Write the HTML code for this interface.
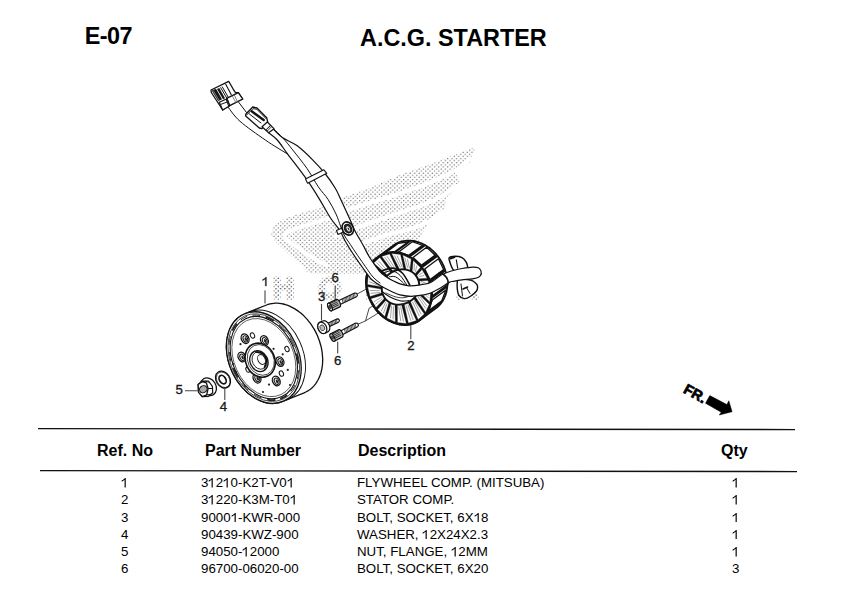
<!DOCTYPE html>
<html><head><meta charset="utf-8">
<style>
html,body{margin:0;padding:0;background:#fff;}
body{width:844px;height:599px;position:relative;overflow:hidden;font-family:"Liberation Sans",sans-serif;color:#000;}
.t{position:absolute;white-space:nowrap;line-height:1;}
.b{font-weight:bold;}
.h1{font-size:23.4px;font-weight:bold;}
.hd{font-size:16px;font-weight:bold;}
.r{font-size:13.3px;}
svg.main{position:absolute;left:0;top:0;}
.one{display:inline-block;width:0.556em;height:0.716em;vertical-align:baseline;}
.one svg{display:block;width:0.556em;height:0.716em;position:relative;top:0.6px;}
</style></head>
<body>
<div class="t h1" style="left:84.7px;top:25px;letter-spacing:-0.5px;">E-07</div>
<div class="t h1" style="left:360px;top:27px;">A.C.G. STARTER</div>

<svg class="main" width="844" height="599" viewBox="0 0 844 599">
<defs><pattern id="dots" patternUnits="userSpaceOnUse" width="4.4" height="4.2"><circle cx="1.1" cy="1.05" r="0.62" fill="#555"/><circle cx="3.3" cy="3.15" r="0.62" fill="#555"/></pattern></defs>
<polygon points="271.3,235 272.5,227.5 283.8,218.8 302.5,212.5 321.3,207.5 343.3,197.3 367,189 398.4,175.5 434,162.7 475.5,146.8 469.5,162.7 455,172 459.8,180.6 454,190 446,198 444.5,208.3 436,218 428,224 422.5,233 417,244 413,256 410,274 330,274 308,273 302.5,266.3 290,255 275,241.3" fill="url(#dots)" stroke="none" stroke-width="0" stroke-linejoin="round" />
<path d="M470 159 C468 160.7 463 165.8 458 169 C453 172.2 446.3 175.1 440 178 C433.7 180.9 428.3 183.4 420 186.5 C411.7 189.6 398.7 193.7 390 196.5 C381.3 199.3 375.5 201.1 368 203.5 C360.5 205.9 350.8 208.8 345 211 C339.2 213.2 338 214.6 333 216.5 C328 218.4 321.2 220.5 315 222.5 C308.8 224.5 301.1 226.4 296 228.5 C290.9 230.6 285.1 232.4 284.5 235 C283.9 237.6 287.8 240.1 292.5 243.8 C297.2 247.6 306.9 254 312.5 257.5 C318.1 261 323.8 263.8 326 265" fill="none" stroke="#fff" stroke-width="4.0" stroke-linecap="round" stroke-linejoin="round" />
<path d="M456 186 C454 187.5 449.2 192 444 195 C438.8 198 434 200.5 425 204 C416 207.5 399.2 212.8 390 216 C380.8 219.2 376.3 220.8 370 223 C363.7 225.2 357.7 227.3 352 229.5 C346.3 231.7 338.7 234.9 336 236" fill="none" stroke="#fff" stroke-width="4.0" stroke-linecap="round" stroke-linejoin="round" />
<path d="M442 212 C439.7 213.7 433.3 219.2 428 222 C422.7 224.8 416.3 227 410 229 C403.7 231 396.7 232.1 390 234 C383.3 235.9 376.3 238.3 370 240.5 C363.7 242.7 355 245.9 352 247" fill="none" stroke="#fff" stroke-width="4.0" stroke-linecap="round" stroke-linejoin="round" />
<text x="273" y="298" font-family="Liberation Sans" font-weight="bold" font-size="29" textLength="205" lengthAdjust="spacing" fill="url(#dots)" stroke="url(#dots)" stroke-width="3.5" stroke-linejoin="round">HONDA</text>
<path d="M282.6 401.5 L280.9 402.1 L279.1 402.6 L277.3 402.9 L275.5 403.2 L273.6 403.3 L271.7 403.3 L269.8 403.1 L267.8 402.9 L265.9 402.5 L263.9 402 L262 401.3 L260 400.6 L258.1 399.7 L256.2 398.7 L254.2 397.6 L252.4 396.4 L250.5 395.1 L248.7 393.7 L246.9 392.2 L245.2 390.6 L243.6 388.9 L241.9 387.1 L240.4 385.2 L238.9 383.3 L237.5 381.3 L236.1 379.2 L234.8 377.1 L233.6 374.9 L232.5 372.6 L231.5 370.4 L230.6 368 L229.7 365.7 L229 363.3 L228.3 361 L227.7 358.6 L227.3 356.2 L226.9 353.8 L226.7 351.4 L226.5 349.1 L226.4 346.7 L226.5 344.4 L226.6 342.1 L226.9 339.9 L227.2 337.7 L227.7 335.6 L228.2 333.5 L228.9 331.5 L229.6 329.6 L230.5 327.8 L231.4 326 L232.4 324.3 L233.5 322.7 L234.7 321.2 L235.9 319.8 L237.3 318.5 L238.7 317.3 L240.2 316.3 L241.7 315.3 L243.3 314.5 L245 313.7 L266.5 305 L268.2 304.4 L270 303.9 L271.8 303.6 L273.6 303.3 L275.5 303.2 L277.4 303.2 L279.3 303.4 L281.3 303.6 L283.2 304 L285.2 304.5 L287.1 305.2 L289.1 305.9 L291 306.8 L292.9 307.8 L294.9 308.9 L296.7 310.1 L298.6 311.4 L300.4 312.8 L302.2 314.3 L303.9 315.9 L305.5 317.6 L307.2 319.4 L308.7 321.3 L310.2 323.2 L311.6 325.2 L313 327.3 L314.3 329.4 L315.5 331.6 L316.6 333.9 L317.6 336.1 L318.5 338.5 L319.4 340.8 L320.1 343.2 L320.8 345.5 L321.4 347.9 L321.8 350.3 L322.2 352.7 L322.4 355.1 L322.6 357.4 L322.7 359.8 L322.6 362.1 L322.5 364.4 L322.2 366.6 L321.9 368.8 L321.4 370.9 L320.9 373 L320.2 375 L319.5 376.9 L318.6 378.7 L317.7 380.5 L316.7 382.2 L315.6 383.8 L314.4 385.3 L313.2 386.7 L311.8 388 L310.4 389.2 L308.9 390.2 L307.4 391.2 L305.8 392 L304.1 392.8 Z" fill="#fff" stroke="#111" stroke-width="1.3" stroke-linejoin="round"/>
<ellipse cx="268.1" cy="355.9" rx="47.8" ry="34.7" transform="rotate(65 268.1 355.9)" fill="none" stroke="#111" stroke-width="0.9" />
<ellipse cx="263.8" cy="357.6" rx="47.8" ry="34.7" transform="rotate(65 263.8 357.6)" fill="#fff" stroke="#111" stroke-width="1.3" />
<ellipse cx="263.8" cy="357.6" rx="45.8" ry="33.3" transform="rotate(65 263.8 357.6)" fill="none" stroke="#111" stroke-width="0.7" />
<ellipse cx="263.8" cy="357.6" rx="43" ry="31.2" transform="rotate(65 263.8 357.6)" fill="none" stroke="#111" stroke-width="1.1" />
<ellipse cx="263.8" cy="357.6" rx="40.8" ry="29.7" transform="rotate(65 263.8 357.6)" fill="none" stroke="#111" stroke-width="0.6" />
<polyline points="274.7,400 273.1,400.1 271.4,400.1 269.7,400 268,399.8" fill="none" stroke="#222" stroke-width="1.8" stroke-linecap="round" stroke-linejoin="round" />
<polyline points="261.3,398 259.6,397.3 257.8,396.5 256.1,395.6 254.5,394.6" fill="none" stroke="#222" stroke-width="1.0" stroke-linecap="round" stroke-linejoin="round" />
<polyline points="248.2,389.9 246.7,388.4 245.2,386.9 243.8,385.4 242.4,383.7" fill="none" stroke="#222" stroke-width="1.0" stroke-linecap="round" stroke-linejoin="round" />
<polyline points="237.5,376.8 236.4,374.9 235.4,372.9 234.4,370.9 233.5,368.9" fill="none" stroke="#222" stroke-width="1.8" stroke-linecap="round" stroke-linejoin="round" />
<polyline points="230.8,360.9 230.3,358.7 229.9,356.6 229.6,354.5 229.3,352.4" fill="none" stroke="#222" stroke-width="1.0" stroke-linecap="round" stroke-linejoin="round" />
<polyline points="229.1,344.4 229.3,342.4 229.6,340.4 229.9,338.5 230.3,336.6" fill="none" stroke="#222" stroke-width="1.0" stroke-linecap="round" stroke-linejoin="round" />
<polyline points="232.7,329.9 233.6,328.4 234.4,326.9 235.4,325.4 236.5,324.1" fill="none" stroke="#222" stroke-width="1.8" stroke-linecap="round" stroke-linejoin="round" />
<polyline points="241.1,319.7 242.4,318.8 243.8,318 245.2,317.3 246.7,316.6" fill="none" stroke="#222" stroke-width="1.0" stroke-linecap="round" stroke-linejoin="round" />
<polyline points="252.9,315.2 254.5,315.1 256.2,315.1 257.9,315.2 259.6,315.4" fill="none" stroke="#222" stroke-width="1.0" stroke-linecap="round" stroke-linejoin="round" />
<polyline points="266.3,317.2 268,317.9 269.8,318.7 271.5,319.6 273.1,320.6" fill="none" stroke="#222" stroke-width="1.8" stroke-linecap="round" stroke-linejoin="round" />
<polyline points="279.4,325.3 280.9,326.8 282.4,328.3 283.8,329.8 285.2,331.5" fill="none" stroke="#222" stroke-width="1.0" stroke-linecap="round" stroke-linejoin="round" />
<polyline points="290.1,338.4 291.2,340.3 292.2,342.3 293.2,344.3 294.1,346.3" fill="none" stroke="#222" stroke-width="1.0" stroke-linecap="round" stroke-linejoin="round" />
<polyline points="296.8,354.3 297.3,356.5 297.7,358.6 298,360.7 298.3,362.8" fill="none" stroke="#222" stroke-width="1.8" stroke-linecap="round" stroke-linejoin="round" />
<polyline points="298.5,370.8 298.3,372.8 298,374.8 297.7,376.7 297.3,378.6" fill="none" stroke="#222" stroke-width="1.0" stroke-linecap="round" stroke-linejoin="round" />
<polyline points="294.9,385.3 294,386.8 293.2,388.3 292.2,389.8 291.1,391.1" fill="none" stroke="#222" stroke-width="1.0" stroke-linecap="round" stroke-linejoin="round" />
<polyline points="286.5,395.5 285.2,396.4 283.8,397.2 282.4,397.9 280.9,398.6" fill="none" stroke="#222" stroke-width="1.8" stroke-linecap="round" stroke-linejoin="round" />
<ellipse cx="245.1" cy="338.7" rx="5" ry="3.7" transform="rotate(65 245.1 338.7)" fill="#fff" stroke="#111" stroke-width="1.3" />
<ellipse cx="245.4" cy="338.9" rx="3.3" ry="2.2" transform="rotate(65 245.4 338.9)" fill="none" stroke="#111" stroke-width="1.0" />
<ellipse cx="245.8" cy="339.2" rx="2" ry="1.1" transform="rotate(65 245.8 339.2)" fill="#222" stroke="none" stroke-width="0" />
<ellipse cx="264.4" cy="340.5" rx="5" ry="3.7" transform="rotate(65 264.4 340.5)" fill="#fff" stroke="#111" stroke-width="1.3" />
<ellipse cx="264.7" cy="340.7" rx="3.3" ry="2.2" transform="rotate(65 264.7 340.7)" fill="none" stroke="#111" stroke-width="1.0" />
<ellipse cx="265.1" cy="341" rx="2" ry="1.1" transform="rotate(65 265.1 341)" fill="#222" stroke="none" stroke-width="0" />
<ellipse cx="241.9" cy="357" rx="5" ry="3.7" transform="rotate(65 241.9 357)" fill="#fff" stroke="#111" stroke-width="1.3" />
<ellipse cx="242.2" cy="357.2" rx="3.3" ry="2.2" transform="rotate(65 242.2 357.2)" fill="none" stroke="#111" stroke-width="1.0" />
<ellipse cx="242.6" cy="357.5" rx="2" ry="1.1" transform="rotate(65 242.6 357.5)" fill="#222" stroke="none" stroke-width="0" />
<ellipse cx="280" cy="361.6" rx="5" ry="3.7" transform="rotate(65 280 361.6)" fill="#fff" stroke="#111" stroke-width="1.3" />
<ellipse cx="280.3" cy="361.8" rx="3.3" ry="2.2" transform="rotate(65 280.3 361.8)" fill="none" stroke="#111" stroke-width="1.0" />
<ellipse cx="280.7" cy="362.1" rx="2" ry="1.1" transform="rotate(65 280.7 362.1)" fill="#222" stroke="none" stroke-width="0" />
<ellipse cx="257" cy="378.2" rx="5" ry="3.7" transform="rotate(65 257 378.2)" fill="#fff" stroke="#111" stroke-width="1.3" />
<ellipse cx="257.3" cy="378.4" rx="3.3" ry="2.2" transform="rotate(65 257.3 378.4)" fill="none" stroke="#111" stroke-width="1.0" />
<ellipse cx="257.7" cy="378.7" rx="2" ry="1.1" transform="rotate(65 257.7 378.7)" fill="#222" stroke="none" stroke-width="0" />
<ellipse cx="276.3" cy="381" rx="5" ry="3.7" transform="rotate(65 276.3 381)" fill="#fff" stroke="#111" stroke-width="1.3" />
<ellipse cx="276.6" cy="381.2" rx="3.3" ry="2.2" transform="rotate(65 276.6 381.2)" fill="none" stroke="#111" stroke-width="1.0" />
<ellipse cx="277" cy="381.5" rx="2" ry="1.1" transform="rotate(65 277 381.5)" fill="#222" stroke="none" stroke-width="0" />
<ellipse cx="248" cy="369.5" rx="2.8" ry="2" transform="rotate(65 248 369.5)" fill="#fff" stroke="#111" stroke-width="1.0" />
<ellipse cx="281.4" cy="373.6" rx="2.8" ry="2" transform="rotate(65 281.4 373.6)" fill="#fff" stroke="#111" stroke-width="1.0" />
<ellipse cx="252.5" cy="335.5" rx="2.8" ry="2" transform="rotate(65 252.5 335.5)" fill="#fff" stroke="#111" stroke-width="1.0" />
<ellipse cx="287" cy="349" rx="2.8" ry="2" transform="rotate(65 287 349)" fill="#fff" stroke="#111" stroke-width="1.0" />
<circle cx="240.5" cy="344.2" r="1.1" fill="#222"/>
<circle cx="273.6" cy="348.8" r="1.1" fill="#222"/>
<circle cx="269" cy="384.6" r="1.1" fill="#222"/>
<circle cx="287.8" cy="369.9" r="1.1" fill="#222"/>
<circle cx="282.7" cy="354.3" r="1.1" fill="#222"/>
<circle cx="233" cy="364" r="1.1" fill="#222"/>
<circle cx="290" cy="385" r="1.1" fill="#222"/>
<circle cx="263" cy="392" r="1.1" fill="#222"/>
<circle cx="245" cy="386" r="1.1" fill="#222"/>
<circle cx="236" cy="372" r="1.1" fill="#222"/>
<ellipse cx="260.2" cy="360.2" rx="17.5" ry="14.5" transform="rotate(65 260.2 360.2)" fill="#fff" stroke="#111" stroke-width="1.6" />
<ellipse cx="260.8" cy="359.9" rx="15.8" ry="13" transform="rotate(65 260.8 359.9)" fill="none" stroke="#111" stroke-width="0.7" />
<ellipse cx="258.9" cy="361.1" rx="10.8" ry="8.8" transform="rotate(65 258.9 361.1)" fill="#fff" stroke="#111" stroke-width="1.3" />
<ellipse cx="259.6" cy="360.5" rx="9" ry="7.2" transform="rotate(65 259.6 360.5)" fill="none" stroke="#111" stroke-width="0.8" />
<path d="M256 352 C257.2 352.3 261.2 352.7 263 354 C264.8 355.3 266.2 357.8 266.5 360 C266.8 362.2 264.8 366.2 264.5 367.5" fill="none" stroke="#111" stroke-width="1.8" stroke-linecap="round" stroke-linejoin="round" />
<ellipse cx="261.5" cy="359.5" rx="5.2" ry="3.6" transform="rotate(65 261.5 359.5)" fill="none" stroke="#111" stroke-width="0.9" />
<ellipse cx="208.5" cy="386.7" rx="9.3" ry="7.4" transform="rotate(58 208.5 386.7)" fill="#fff" stroke="#111" stroke-width="1.3" />
<polygon points="198.1,384.5 202.1,381 208.5,381 212.4,386.3 212.7,392.7 208.5,396.3 202.1,396.6 198.5,392" fill="#fff" stroke="#111" stroke-width="1.2" stroke-linejoin="round" />
<polygon points="198.1,384.5 202.1,381.7 206.3,382.8 208.1,388.5 206.7,394.9 202.4,396.6 198.6,392.4" fill="#fff" stroke="#111" stroke-width="1.3" stroke-linejoin="round" />
<polyline points="202.1,381.7 205.6,381.3 208.8,382.1" fill="none" stroke="#111" stroke-width="1.0" stroke-linecap="round" stroke-linejoin="round" />
<polyline points="208.1,388.5 212.4,388.5" fill="none" stroke="#111" stroke-width="1.0" stroke-linecap="round" stroke-linejoin="round" />
<polyline points="206.7,394.9 210.6,394.5" fill="none" stroke="#111" stroke-width="1.0" stroke-linecap="round" stroke-linejoin="round" />
<ellipse cx="203.3" cy="389.2" rx="3.4" ry="3.9" transform="rotate(60 203.3 389.2)" fill="#aaa" stroke="#111" stroke-width="1.0" />
<ellipse cx="223" cy="379.6" rx="8.9" ry="6.9" transform="rotate(58 223 379.6)" fill="#fff" stroke="#111" stroke-width="1.3" />
<ellipse cx="223.2" cy="379.8" rx="8.2" ry="6.2" transform="rotate(58 223.2 379.8)" fill="none" stroke="#111" stroke-width="0.6" />
<ellipse cx="222.6" cy="379.6" rx="4.6" ry="3.1" transform="rotate(58 222.6 379.6)" fill="#fff" stroke="#111" stroke-width="1.7" />
<polyline points="265,290.7 265,303" fill="none" stroke="#444" stroke-width="1.1" stroke-linecap="round" stroke-linejoin="round" />
<polygon points="266.4,286 266.4,277.3 265.5,277.3 265.1,277.9 264.2,278.7 262.6,279.6 262.6,280.6 263.8,280 264.7,279.4 265.3,279 265.3,286" fill="#1a1a1a" stroke="#1a1a1a" stroke-width="0.35" stroke-linejoin="round" />
<polyline points="185.4,390.7 198.7,390.7" fill="none" stroke="#444" stroke-width="1.1" stroke-linecap="round" stroke-linejoin="round" />
<text x="175.6" y="394.2" font-family="Liberation Sans" font-size="13.2" fill="#1a1a1a" stroke="#1a1a1a" stroke-width="0.35">5</text>
<polyline points="224.8,388.7 224.8,399.4" fill="none" stroke="#444" stroke-width="1.1" stroke-linecap="round" stroke-linejoin="round" />
<text x="219.8" y="410.8" font-family="Liberation Sans" font-size="13.2" fill="#1a1a1a" stroke="#1a1a1a" stroke-width="0.35">4</text>
<polyline points="321.5,304.4 321.5,320" fill="none" stroke="#444" stroke-width="1.1" stroke-linecap="round" stroke-linejoin="round" />
<text x="317.9" y="301.2" font-family="Liberation Sans" font-size="13.2" fill="#1a1a1a" stroke="#1a1a1a" stroke-width="0.35">3</text>
<polyline points="335.2,286 335.2,300.5" fill="none" stroke="#444" stroke-width="1.1" stroke-linecap="round" stroke-linejoin="round" />
<text x="331.4" y="282.2" font-family="Liberation Sans" font-size="13.2" fill="#1a1a1a" stroke="#1a1a1a" stroke-width="0.35">6</text>
<polyline points="337.7,342 337.7,353" fill="none" stroke="#444" stroke-width="1.1" stroke-linecap="round" stroke-linejoin="round" />
<text x="333.9" y="365.2" font-family="Liberation Sans" font-size="13.2" fill="#1a1a1a" stroke="#1a1a1a" stroke-width="0.35">6</text>
<polyline points="410.8,324 410.8,338.7" fill="none" stroke="#444" stroke-width="1.1" stroke-linecap="round" stroke-linejoin="round" />
<text x="407.2" y="349.9" font-family="Liberation Sans" font-size="13.2" fill="#1a1a1a" stroke="#1a1a1a" stroke-width="0.35">2</text>
<polyline points="356.4,294.4 372,286" fill="none" stroke="#333" stroke-width="0.9" stroke-linecap="round" stroke-linejoin="round" />
<polyline points="357.5,324.4 365.5,320.9 369.2,308.1 378,303" fill="none" stroke="#333" stroke-width="0.9" stroke-linecap="round" stroke-linejoin="round" />
<polyline points="365.5,320.9 380,312" fill="none" stroke="#333" stroke-width="0.9" stroke-linecap="round" stroke-linejoin="round" />
<path d="M420.3 319.9 L418.9 320.8 L417.5 321.7 L416.1 322.4 L414.6 323.1 L413 323.6 L411.5 324.1 L409.9 324.4 L408.2 324.7 L406.6 324.8 L404.9 324.9 L403.2 324.8 L401.5 324.7 L399.7 324.5 L398 324.1 L396.3 323.7 L394.6 323.1 L392.9 322.5 L391.2 321.8 L389.5 321 L387.9 320.1 L386.3 319.1 L384.7 318 L383.2 316.9 L381.7 315.6 L380.3 314.3 L378.9 312.9 L377.5 311.5 L376.3 310 L375.1 308.4 L373.9 306.8 L372.8 305.1 L371.8 303.4 L370.9 301.7 L370 299.9 L369.3 298 L368.6 296.2 L368 294.3 L367.4 292.4 L367 290.5 L366.6 288.6 L366.4 286.7 L366.2 284.8 L366.1 282.9 L366.1 281.1 L366.2 279.2 L366.4 277.4 L366.7 275.6 L367 273.8 L367.5 272.1 L368 270.4 L368.7 268.8 L369.4 267.2 L370.2 265.7 L371 264.3 L372 262.9 L373 261.6 L374.1 260.3 L375.2 259.2 L376.4 258.1 L377.7 257.1 L393.2 245.6 L394.6 244.7 L396 243.8 L397.4 243.1 L398.9 242.4 L400.5 241.9 L402 241.4 L403.6 241.1 L405.3 240.8 L406.9 240.7 L408.6 240.6 L410.3 240.7 L412 240.8 L413.8 241 L415.5 241.4 L417.2 241.8 L418.9 242.4 L420.6 243 L422.3 243.7 L424 244.5 L425.6 245.4 L427.2 246.4 L428.8 247.5 L430.3 248.6 L431.8 249.9 L433.2 251.2 L434.6 252.6 L436 254 L437.2 255.5 L438.4 257.1 L439.6 258.7 L440.7 260.4 L441.7 262.1 L442.6 263.8 L443.5 265.6 L444.2 267.5 L444.9 269.3 L445.5 271.2 L446.1 273.1 L446.5 275 L446.9 276.9 L447.1 278.8 L447.3 280.7 L447.4 282.6 L447.4 284.4 L447.3 286.3 L447.1 288.1 L446.8 289.9 L446.5 291.7 L446 293.4 L445.5 295.1 L444.8 296.7 L444.1 298.3 L443.3 299.8 L442.5 301.2 L441.5 302.6 L440.5 303.9 L439.4 305.2 L438.3 306.3 L437.1 307.4 L435.8 308.4 Z" fill="#fff" stroke="#111" stroke-width="1.8" stroke-linejoin="round"/>
<polygon points="415.7,321.8 404,323.5 417.7,313.4 429.4,311.6" fill="#fff" stroke="#111" stroke-width="1.3" stroke-linejoin="round" />
<polygon points="406.6,323.6 404,323.5 417.7,313.4 420.3,313.5" fill="#111" stroke="none" stroke-width="0" stroke-linejoin="round" />
<polygon points="401.8,323.3 389.6,319.1 403.3,308.9 415.4,313.2" fill="#fff" stroke="#111" stroke-width="1.3" stroke-linejoin="round" />
<polygon points="392.1,320.4 389.6,319.1 403.3,308.9 405.8,310.2" fill="#111" stroke="none" stroke-width="0" stroke-linejoin="round" />
<polygon points="387.5,317.8 377.3,308.3 391,298.2 401.1,307.6" fill="#fff" stroke="#111" stroke-width="1.3" stroke-linejoin="round" />
<polygon points="379.3,310.6 377.3,308.3 391,298.2 392.9,300.5" fill="#111" stroke="none" stroke-width="0" stroke-linejoin="round" />
<polygon points="375.8,306.2 369.6,293.5 383.2,283.4 389.4,296.1" fill="#fff" stroke="#111" stroke-width="1.3" stroke-linejoin="round" />
<polygon points="370.5,296.3 369.6,293.5 383.2,283.4 384.2,286.2" fill="#111" stroke="none" stroke-width="0" stroke-linejoin="round" />
<polygon points="368.9,291 367.9,277.5 381.5,267.4 382.5,280.9" fill="#fff" stroke="#111" stroke-width="1.3" stroke-linejoin="round" />
<polygon points="367.7,280.3 367.9,277.5 381.5,267.4 381.3,270.2" fill="#111" stroke="none" stroke-width="0" stroke-linejoin="round" />
<polygon points="368.2,275.1 372.6,263.5 386.2,253.4 381.8,265" fill="#fff" stroke="#111" stroke-width="1.3" stroke-linejoin="round" />
<polygon points="371.3,265.7 372.6,263.5 386.2,253.4 384.9,255.6" fill="#111" stroke="none" stroke-width="0" stroke-linejoin="round" />
<polygon points="373.9,261.7 382.8,254.3 396.4,244.2 387.5,251.6" fill="#fff" stroke="#111" stroke-width="1.3" stroke-linejoin="round" />
<polygon points="380.6,255.5 382.8,254.3 396.4,244.2 394.3,245.4" fill="#111" stroke="none" stroke-width="0" stroke-linejoin="round" />
<polygon points="384.7,253.4 396.4,251.6 410.1,241.5 398.4,243.3" fill="#fff" stroke="#111" stroke-width="1.3" stroke-linejoin="round" />
<polygon points="393.9,251.6 396.4,251.6 410.1,241.5 407.5,241.5" fill="#111" stroke="none" stroke-width="0" stroke-linejoin="round" />
<polygon points="398.7,251.9 410.8,256.1 424.5,246 412.3,241.7" fill="#fff" stroke="#111" stroke-width="1.3" stroke-linejoin="round" />
<polygon points="408.3,254.8 410.8,256.1 424.5,246 422,244.7" fill="#111" stroke="none" stroke-width="0" stroke-linejoin="round" />
<polygon points="413,257.4 423.2,266.8 436.8,256.7 426.6,247.3" fill="#fff" stroke="#111" stroke-width="1.3" stroke-linejoin="round" />
<polygon points="421.2,264.5 423.2,266.8 436.8,256.7 434.9,254.4" fill="#111" stroke="none" stroke-width="0" stroke-linejoin="round" />
<polygon points="424.7,268.9 430.9,281.6 444.6,271.5 438.4,258.8" fill="#fff" stroke="#111" stroke-width="1.3" stroke-linejoin="round" />
<polygon points="430,278.8 430.9,281.6 444.6,271.5 443.6,268.7" fill="#111" stroke="none" stroke-width="0" stroke-linejoin="round" />
<polygon points="431.6,284.1 432.6,297.6 446.3,287.5 445.2,274" fill="#fff" stroke="#111" stroke-width="1.3" stroke-linejoin="round" />
<polygon points="432.8,294.8 432.6,297.6 446.3,287.5 446.4,284.7" fill="#111" stroke="none" stroke-width="0" stroke-linejoin="round" />
<polygon points="432.3,300 427.9,311.6 441.5,301.5 445.9,289.9" fill="#fff" stroke="#111" stroke-width="1.3" stroke-linejoin="round" />
<polygon points="429.2,309.4 427.9,311.6 441.5,301.5 442.8,299.3" fill="#111" stroke="none" stroke-width="0" stroke-linejoin="round" />
<polygon points="426.6,313.5 417.7,320.9 431.3,310.8 440.3,303.3" fill="#fff" stroke="#111" stroke-width="1.3" stroke-linejoin="round" />
<polygon points="419.8,319.7 417.7,320.9 431.3,310.8 433.5,309.6" fill="#111" stroke="none" stroke-width="0" stroke-linejoin="round" />
<ellipse cx="399" cy="288.5" rx="38" ry="31" transform="rotate(60 399 288.5)" fill="#111" stroke="#111" stroke-width="1.8" />
<polygon points="416.3,320.6 408.4,323.1 404.3,304.8 408.4,303.2" fill="#fff" stroke="#222" stroke-width="0.3" stroke-linejoin="round" />
<polyline points="413.1,319.6 408,305.1" fill="none" stroke="#555" stroke-width="0.55" stroke-linecap="round" stroke-linejoin="round" />
<polyline points="410.7,320.4 406.2,305.8" fill="none" stroke="#555" stroke-width="0.55" stroke-linecap="round" stroke-linejoin="round" />
<polygon points="406.3,323.4 397.5,322.6 397.4,305.5 401.7,305.3" fill="#fff" stroke="#222" stroke-width="0.3" stroke-linejoin="round" />
<polyline points="403.4,321.2 400.7,307" fill="none" stroke="#555" stroke-width="0.55" stroke-linecap="round" stroke-linejoin="round" />
<polyline points="400.7,321 398.8,307.1" fill="none" stroke="#555" stroke-width="0.55" stroke-linecap="round" stroke-linejoin="round" />
<polygon points="395.3,321.9 386.8,317.9 391,304 395,305.2" fill="#fff" stroke="#222" stroke-width="0.3" stroke-linejoin="round" />
<polyline points="393.1,318.9 393.4,306.6" fill="none" stroke="#555" stroke-width="0.55" stroke-linecap="round" stroke-linejoin="round" />
<polyline points="390.5,317.7 391.6,306" fill="none" stroke="#555" stroke-width="0.55" stroke-linecap="round" stroke-linejoin="round" />
<polygon points="384.8,316.5 377.6,309.6 385.7,300.5 388.8,302.9" fill="#fff" stroke="#222" stroke-width="0.3" stroke-linejoin="round" />
<polyline points="383.5,313 387,303.7" fill="none" stroke="#555" stroke-width="0.55" stroke-linecap="round" stroke-linejoin="round" />
<polyline points="381.3,311 385.5,302.6" fill="none" stroke="#555" stroke-width="0.55" stroke-linecap="round" stroke-linejoin="round" />
<polygon points="376,307.6 370.9,298.8 382.2,295.3 384.1,298.7" fill="#fff" stroke="#222" stroke-width="0.3" stroke-linejoin="round" />
<polyline points="375.8,304.1 382.2,298.9" fill="none" stroke="#555" stroke-width="0.55" stroke-linecap="round" stroke-linejoin="round" />
<polyline points="374.3,301.5 381.3,297.4" fill="none" stroke="#555" stroke-width="0.55" stroke-linecap="round" stroke-linejoin="round" />
<polygon points="370,296.5 367.7,286.8 380.9,289.1 381.4,293.1" fill="#fff" stroke="#222" stroke-width="0.3" stroke-linejoin="round" />
<polyline points="370.9,293.3 379.6,292.6" fill="none" stroke="#555" stroke-width="0.55" stroke-linecap="round" stroke-linejoin="round" />
<polyline points="370.2,290.4 379.3,290.8" fill="none" stroke="#555" stroke-width="0.55" stroke-linecap="round" stroke-linejoin="round" />
<polygon points="367.5,284.4 368.2,275 381.9,282.7 381,286.7" fill="#fff" stroke="#222" stroke-width="0.3" stroke-linejoin="round" />
<polyline points="369.4,281.9 379.5,285.6" fill="none" stroke="#555" stroke-width="0.55" stroke-linecap="round" stroke-linejoin="round" />
<polyline points="369.6,279.1 379.9,283.8" fill="none" stroke="#555" stroke-width="0.55" stroke-linecap="round" stroke-linejoin="round" />
<polygon points="368.8,272.8 372.4,264.8 385.2,276.8 382.9,280.4" fill="#fff" stroke="#222" stroke-width="0.3" stroke-linejoin="round" />
<polyline points="371.5,271.4 382,278.8" fill="none" stroke="#555" stroke-width="0.55" stroke-linecap="round" stroke-linejoin="round" />
<polyline points="372.5,268.9 383,277.2" fill="none" stroke="#555" stroke-width="0.55" stroke-linecap="round" stroke-linejoin="round" />
<polygon points="373.7,263 379.9,257.4 390.4,272.1 387,274.8" fill="#fff" stroke="#222" stroke-width="0.3" stroke-linejoin="round" />
<polyline points="376.8,262.8 386.7,273" fill="none" stroke="#555" stroke-width="0.55" stroke-linecap="round" stroke-linejoin="round" />
<polyline points="378.7,261.1 388.2,271.8" fill="none" stroke="#555" stroke-width="0.55" stroke-linecap="round" stroke-linejoin="round" />
<polygon points="381.7,256.4 389.6,253.9 396.7,269.2 392.6,270.8" fill="#fff" stroke="#222" stroke-width="0.3" stroke-linejoin="round" />
<polyline points="384.9,257.4 393,268.9" fill="none" stroke="#555" stroke-width="0.55" stroke-linecap="round" stroke-linejoin="round" />
<polyline points="387.3,256.6 394.8,268.2" fill="none" stroke="#555" stroke-width="0.55" stroke-linecap="round" stroke-linejoin="round" />
<polygon points="391.7,253.6 400.5,254.4 403.6,268.5 399.3,268.7" fill="#fff" stroke="#222" stroke-width="0.3" stroke-linejoin="round" />
<polyline points="394.6,255.8 400.3,267" fill="none" stroke="#555" stroke-width="0.55" stroke-linecap="round" stroke-linejoin="round" />
<polyline points="397.3,256 402.2,266.9" fill="none" stroke="#555" stroke-width="0.55" stroke-linecap="round" stroke-linejoin="round" />
<polygon points="402.7,255.1 411.2,259.1 410,270 406,268.8" fill="#fff" stroke="#222" stroke-width="0.3" stroke-linejoin="round" />
<polyline points="404.9,258.1 407.6,267.4" fill="none" stroke="#555" stroke-width="0.55" stroke-linecap="round" stroke-linejoin="round" />
<polyline points="407.5,259.3 409.4,268" fill="none" stroke="#555" stroke-width="0.55" stroke-linecap="round" stroke-linejoin="round" />
<polygon points="413.2,260.5 420.4,267.4 415.3,273.5 412.2,271.1" fill="#fff" stroke="#222" stroke-width="0.3" stroke-linejoin="round" />
<polyline points="414.5,264 414,270.3" fill="none" stroke="#555" stroke-width="0.55" stroke-linecap="round" stroke-linejoin="round" />
<polyline points="416.7,266 415.5,271.4" fill="none" stroke="#555" stroke-width="0.55" stroke-linecap="round" stroke-linejoin="round" />
<polygon points="422,269.4 427.1,278.2 418.8,278.7 416.9,275.3" fill="#fff" stroke="#222" stroke-width="0.3" stroke-linejoin="round" />
<polyline points="422.2,272.9 418.8,275.1" fill="none" stroke="#555" stroke-width="0.55" stroke-linecap="round" stroke-linejoin="round" />
<polyline points="423.7,275.5 419.7,276.6" fill="none" stroke="#555" stroke-width="0.55" stroke-linecap="round" stroke-linejoin="round" />
<polygon points="428,280.5 430.3,290.2 420.1,284.9 419.6,280.9" fill="#fff" stroke="#222" stroke-width="0.3" stroke-linejoin="round" />
<polyline points="427.1,283.7 421.4,281.4" fill="none" stroke="#555" stroke-width="0.55" stroke-linecap="round" stroke-linejoin="round" />
<polyline points="427.8,286.6 421.7,283.2" fill="none" stroke="#555" stroke-width="0.55" stroke-linecap="round" stroke-linejoin="round" />
<polygon points="430.5,292.6 429.8,302 419.1,291.3 420,287.3" fill="#fff" stroke="#222" stroke-width="0.3" stroke-linejoin="round" />
<polyline points="428.6,295.1 421.5,288.4" fill="none" stroke="#555" stroke-width="0.55" stroke-linecap="round" stroke-linejoin="round" />
<polyline points="428.4,297.9 421.1,290.2" fill="none" stroke="#555" stroke-width="0.55" stroke-linecap="round" stroke-linejoin="round" />
<polygon points="429.2,304.2 425.6,312.2 415.8,297.2 418.1,293.6" fill="#fff" stroke="#222" stroke-width="0.3" stroke-linejoin="round" />
<polyline points="426.5,305.6 419,295.2" fill="none" stroke="#555" stroke-width="0.55" stroke-linecap="round" stroke-linejoin="round" />
<polyline points="425.5,308.1 418,296.8" fill="none" stroke="#555" stroke-width="0.55" stroke-linecap="round" stroke-linejoin="round" />
<polygon points="424.3,314 418.1,319.6 410.6,301.9 414,299.2" fill="#fff" stroke="#222" stroke-width="0.3" stroke-linejoin="round" />
<polyline points="421.2,314.2 414.3,301" fill="none" stroke="#555" stroke-width="0.55" stroke-linecap="round" stroke-linejoin="round" />
<polyline points="419.3,315.9 412.8,302.2" fill="none" stroke="#555" stroke-width="0.55" stroke-linecap="round" stroke-linejoin="round" />
<ellipse cx="400.5" cy="287" rx="17" ry="19" transform="rotate(60 400.5 287)" fill="#fff" stroke="#111" stroke-width="1.5" />
<path d="M381.3 271.1 C383.2 270.6 389 267.8 392.5 268.1 C396 268.4 399.4 270.2 402.3 273 C405.2 275.8 408.6 283 409.8 285" fill="none" stroke="#111" stroke-width="1.6" stroke-linecap="round" stroke-linejoin="round" />
<path d="M383.5 273 C384.9 272.6 389.1 270.4 391.8 270.8 C394.6 271.2 397.5 272.9 400 275.3 C402.5 277.7 405.7 283.4 406.8 285" fill="none" stroke="#111" stroke-width="1.0" stroke-linecap="round" stroke-linejoin="round" />
<path d="M389.5 276.8 C390.5 276.8 393.4 275.9 395.5 276.8 C397.6 277.7 400.7 280.6 402.3 282 C403.9 283.4 404.8 284.5 405.3 285" fill="none" stroke="#111" stroke-width="1.0" stroke-linecap="round" stroke-linejoin="round" />
<path d="M384.3 273.8 C384.9 274.4 386.2 276 388 277.5 C389.8 279 392.6 281.6 394.8 282.8 C397.1 284.1 400.4 284.6 401.5 285" fill="none" stroke="#111" stroke-width="0.9" stroke-linecap="round" stroke-linejoin="round" />
<path d="M382 291.5 C383.5 292.5 387.8 295.9 391 297.5 C394.2 299.1 398 300.5 401 301 C404 301.5 407.7 300.6 409 300.5" fill="none" stroke="#111" stroke-width="1.1" stroke-linecap="round" stroke-linejoin="round" />
<path d="M386 293 C387.7 293.7 392.8 296.2 396 297 C399.2 297.8 402 298 405 297.5 C408 297 412.5 294.6 414 294" fill="none" stroke="#111" stroke-width="0.8" stroke-linecap="round" stroke-linejoin="round" />
<path d="M453.5 270 C453.2 269.6 452.6 269.1 452 267.8 C451.4 266.5 450.4 263.8 449.9 262.1 C449.4 260.4 448.4 258.8 449.2 257.8 C450 256.8 452.8 256.2 454.9 256.2 C457 256.2 460.1 256.6 462 257.6 C463.9 258.6 465.2 260.5 466.2 262.1 C467.1 263.7 467.6 266.2 467.7 267.4 C467.8 268.5 467.1 268.7 467 269" fill="#fff" stroke="#111" stroke-width="1.5" stroke-linecap="round" stroke-linejoin="round" />
<polyline points="456.3,259.8 457.7,268.1" fill="none" stroke="#111" stroke-width="1.1" stroke-linecap="round" stroke-linejoin="round" />
<polyline points="450.5,258.5 454.5,257" fill="none" stroke="#111" stroke-width="2.0" stroke-linecap="round" stroke-linejoin="round" />
<path d="M457.4 279 C457.4 280.5 456.9 285.2 457.2 288 C457.5 290.8 457.8 293.7 459 295.5 C460.2 297.3 462.5 298.4 464.4 298.6 C466.3 298.8 468.2 297.8 470.2 296.5 C472.2 295.2 475.3 292.6 476.5 291 C477.7 289.4 477.5 288.1 477.6 287 C477.7 285.9 477.7 285.5 476.9 284.5 C476.1 283.5 474.4 281.6 472.6 280.8 C470.8 280 467.1 279.7 466 279.5" fill="#fff" stroke="#111" stroke-width="1.4" stroke-linecap="round" stroke-linejoin="round" />
<polyline points="461,284 462.5,296" fill="none" stroke="#111" stroke-width="1.0" stroke-linecap="round" stroke-linejoin="round" />
<polyline points="466.5,287.5 470,293.5" fill="none" stroke="#111" stroke-width="1.0" stroke-linecap="round" stroke-linejoin="round" />
<polyline points="463,289 467.5,287" fill="none" stroke="#111" stroke-width="1.6" stroke-linecap="round" stroke-linejoin="round" />
<path d="M273.5 129.2 C275 130.6 278.8 135.1 282.7 137.8 C286.6 140.5 291.9 141.9 296.9 145.6 C301.9 149.3 307.9 155.1 312.6 159.8 C317.4 164.5 321.6 169.3 325.4 174 C329.2 178.7 332.7 183.9 335.3 188.2 C337.9 192.5 338.6 194.8 341 200 C343.4 205.2 347.7 214.3 350 219.5 C352.3 224.7 352.8 226.8 355 231 C357.2 235.2 360.5 240.5 363 245 C365.5 249.5 367.3 253.8 370 258 C372.7 262.2 376.5 267.5 379 270.5 C381.5 273.5 382.8 274.3 385 276 C387.2 277.7 390 279.2 392.5 280.5 C395 281.8 397.2 283 400 283.9 C402.8 284.8 405.9 285.6 409 285.8 C412.1 286 415.3 285.7 418.8 285.2 C422.3 284.7 426.9 284 430 282.8 C433.1 281.6 435.4 279.2 437.5 277.8 C439.6 276.4 440.5 275.3 442.8 274.2 C445.1 273.1 448.1 271.9 451.3 271 C454.5 270.1 458.4 269.1 462 268.5 C465.6 267.9 469.9 267.2 472.6 267.1 C475.3 267 476.9 267.2 478.3 267.8 C479.7 268.4 480.3 269.5 480.8 270.6 C481.3 271.7 481.1 273.6 481.2 274.2 L481.2 274.2 C480.8 274.7 480.4 276.2 479 277 C477.6 277.8 475.4 278.3 472.6 278.8 C469.8 279.3 465.2 279.5 462 279.9 C458.8 280.3 455.6 280.9 453.5 281.3 C451.4 281.7 451.4 281.2 449.2 282.4 C446.9 283.5 443.2 286.4 440 288.2 C436.8 290 432.9 292.2 430 293.3 C427.1 294.4 425.7 294.5 422.6 295 C419.5 295.5 415.1 296.3 411.3 296.3 C407.5 296.3 403.1 295.5 400 294.8 C396.9 294.1 395 293.1 392.5 292 C390 290.9 387.5 289.7 385 288.3 C382.5 286.9 379.9 285.5 377.5 283.8 C375.1 282.1 373 281 370.5 278.3 C368 275.6 365.5 271.7 362.5 267.5 C359.5 263.3 355.2 257.2 352.5 253 C349.8 248.8 348.2 246.3 346 242.5 C343.8 238.7 342.1 234.1 339.5 230 C336.9 225.9 333.8 223.1 330.5 218 C327.2 212.9 323.6 206 319.7 199.6 C315.8 193.2 312.2 187.3 306.9 179.7 C301.6 172.1 292.6 160.7 287.7 154.1 C282.8 147.5 280.5 143.6 277.3 140 C274.1 136.4 270.1 133.9 268.7 132.7 Z" fill="#fff" stroke="none"/>
<path d="M273.5 129.2 C275 130.6 278.8 135.1 282.7 137.8 C286.6 140.5 291.9 141.9 296.9 145.6 C301.9 149.3 307.9 155.1 312.6 159.8 C317.4 164.5 321.6 169.3 325.4 174 C329.2 178.7 332.7 183.9 335.3 188.2 C337.9 192.5 338.6 194.8 341 200 C343.4 205.2 347.7 214.3 350 219.5 C352.3 224.7 352.8 226.8 355 231 C357.2 235.2 360.5 240.5 363 245 C365.5 249.5 367.3 253.8 370 258 C372.7 262.2 376.5 267.5 379 270.5 C381.5 273.5 382.8 274.3 385 276 C387.2 277.7 390 279.2 392.5 280.5 C395 281.8 397.2 283 400 283.9 C402.8 284.8 405.9 285.6 409 285.8 C412.1 286 415.3 285.7 418.8 285.2 C422.3 284.7 426.9 284 430 282.8 C433.1 281.6 435.4 279.2 437.5 277.8 C439.6 276.4 440.5 275.3 442.8 274.2 C445.1 273.1 448.1 271.9 451.3 271 C454.5 270.1 458.4 269.1 462 268.5 C465.6 267.9 469.9 267.2 472.6 267.1 C475.3 267 476.9 267.2 478.3 267.8 C479.7 268.4 480.3 269.5 480.8 270.6 C481.3 271.7 481.1 273.6 481.2 274.2" fill="none" stroke="#111" stroke-width="1.2" stroke-linecap="round" stroke-linejoin="round" />
<path d="M268.7 132.7 C270.1 133.9 274.1 136.4 277.3 140 C280.5 143.6 282.8 147.5 287.7 154.1 C292.6 160.7 301.6 172.1 306.9 179.7 C312.2 187.3 315.8 193.2 319.7 199.6 C323.6 206 327.2 212.9 330.5 218 C333.8 223.1 336.9 225.9 339.5 230 C342.1 234.1 343.8 238.7 346 242.5 C348.2 246.3 349.8 248.8 352.5 253 C355.2 257.2 359.5 263.3 362.5 267.5 C365.5 271.7 368 275.6 370.5 278.3 C373 281 375.1 282.1 377.5 283.8 C379.9 285.5 382.5 286.9 385 288.3 C387.5 289.7 390 290.9 392.5 292 C395 293.1 396.9 294.1 400 294.8 C403.1 295.5 407.5 296.3 411.3 296.3 C415.1 296.3 419.5 295.5 422.6 295 C425.7 294.5 427.1 294.4 430 293.3 C432.9 292.2 436.8 290 440 288.2 C443.2 286.4 446.9 283.5 449.2 282.4 C451.4 281.2 451.4 281.7 453.5 281.3 C455.6 280.9 458.8 280.3 462 279.9 C465.2 279.5 469.8 279.3 472.6 278.8 C475.4 278.3 477.6 277.8 479 277 C480.4 276.2 480.8 274.7 481.2 274.2" fill="none" stroke="#111" stroke-width="1.2" stroke-linecap="round" stroke-linejoin="round" />
<path d="M274 129.3 C275.4 130.7 279.6 134.4 282.7 137.8 C285.8 141.2 288.7 144.8 292.7 149.9 C296.7 155 302.6 162.2 306.9 168.3 C311.2 174.5 314.8 181.6 318.3 186.8 C321.9 192 325.2 195.1 328.2 199.6 C331.1 204.1 333.9 209.6 336 214 C338.1 218.4 339.2 222.7 340.5 226 C341.8 229.3 342.1 231.2 343.5 234 C344.9 236.8 347 239.5 349 242.5 C351 245.5 352.6 248 355.3 252 C358 256 362.2 262.1 365.2 266.3 C368.1 270.5 370.5 274.2 373 277 C375.5 279.8 378.8 282 380 283" fill="none" stroke="#111" stroke-width="1.0" stroke-linecap="round" stroke-linejoin="round" />
<path d="M228 107 C230 109.4 233.8 115.8 240 121.3 C246.2 126.8 257.4 134.5 265.3 140 C273.2 145.5 284 151.8 287.7 154.1" fill="none" stroke="#111" stroke-width="1.0" stroke-linecap="round" stroke-linejoin="round" />
<path d="M238.7 102.3 L246.5 112.5" fill="none" stroke="#111" stroke-width="1.0" stroke-linecap="round" stroke-linejoin="round" />
<polygon points="305.5,179 323.9,169.8 326.8,173.3 307.6,183.3" fill="#fff" stroke="#111" stroke-width="1.1" stroke-linejoin="round" />
<polygon points="336.5,230.5 342,228 343.5,232 338,234.5" fill="#fff" stroke="#111" stroke-width="1.1" stroke-linejoin="round" />
<ellipse cx="347.8" cy="228.5" rx="6.9" ry="5.4" transform="rotate(62 347.8 228.5)" fill="#fff" stroke="#111" stroke-width="1.6" />
<ellipse cx="348" cy="228.6" rx="4.6" ry="3.5" transform="rotate(62 348 228.6)" fill="#2a2a2a" stroke="#111" stroke-width="1.0" />
<ellipse cx="348.3" cy="228.8" rx="2.8" ry="1.6" transform="rotate(62 348.3 228.8)" fill="#fff" stroke="none" stroke-width="1.1" />
<ellipse cx="348.5" cy="229" rx="1.6" ry="0.7" transform="rotate(62 348.5 229)" fill="#222" stroke="none" stroke-width="1.1" />
<path d="M439.2 272.8 C440 273.1 442.8 273.7 444.2 274.9 C445.6 276.1 447.2 278.2 447.8 279.9 C448.4 281.6 447.8 284.1 447.8 284.9" fill="none" stroke="#111" stroke-width="1.4" stroke-linecap="round" stroke-linejoin="round" />
<path d="M442.4 274.2 C443 274.8 445.3 276.3 446.3 277.7 C447.3 279.1 448.1 281.9 448.5 282.7" fill="none" stroke="#111" stroke-width="0.9" stroke-linecap="round" stroke-linejoin="round" />
<polygon points="339,305.1 356.5,296.8 357.5,295.2 356.6,293.3 354.7,293 337.2,301.3" fill="#fff" stroke="#111" stroke-width="1.1" stroke-linejoin="round" />
<polyline points="343,303 342.3,299.1" fill="none" stroke="#222" stroke-width="0.75" stroke-linecap="round" stroke-linejoin="round" />
<polyline points="344.4,302.3 343.7,298.5" fill="none" stroke="#222" stroke-width="0.75" stroke-linecap="round" stroke-linejoin="round" />
<polyline points="345.7,301.7 345,297.8" fill="none" stroke="#222" stroke-width="0.75" stroke-linecap="round" stroke-linejoin="round" />
<polyline points="347.1,301 346.4,297.2" fill="none" stroke="#222" stroke-width="0.75" stroke-linecap="round" stroke-linejoin="round" />
<polyline points="348.4,300.4 347.7,296.5" fill="none" stroke="#222" stroke-width="0.75" stroke-linecap="round" stroke-linejoin="round" />
<polyline points="349.8,299.8 349.1,295.9" fill="none" stroke="#222" stroke-width="0.75" stroke-linecap="round" stroke-linejoin="round" />
<polyline points="351.2,299.1 350.4,295.3" fill="none" stroke="#222" stroke-width="0.75" stroke-linecap="round" stroke-linejoin="round" />
<polyline points="352.5,298.5 351.8,294.6" fill="none" stroke="#222" stroke-width="0.75" stroke-linecap="round" stroke-linejoin="round" />
<polyline points="353.9,297.8 353.2,294" fill="none" stroke="#222" stroke-width="0.75" stroke-linecap="round" stroke-linejoin="round" />
<polyline points="355.2,297.2 354.5,293.3" fill="none" stroke="#222" stroke-width="0.75" stroke-linecap="round" stroke-linejoin="round" />
<path d="M331.7 310.7 L331.6 310.7 L331.5 310.8 L331.4 310.8 L331.3 310.8 L331.2 310.8 L331.1 310.8 L331 310.7 L330.9 310.7 L330.8 310.7 L330.7 310.6 L330.5 310.5 L330.4 310.4 L330.3 310.4 L330.2 310.3 L330 310.2 L329.9 310 L329.8 309.9 L329.7 309.8 L329.5 309.7 L329.4 309.5 L329.3 309.4 L329.2 309.2 L329 309 L328.9 308.9 L328.8 308.7 L328.7 308.5 L328.6 308.3 L328.5 308.1 L328.4 307.9 L328.3 307.8 L328.2 307.6 L328.1 307.4 L328.1 307.2 L328 307 L327.9 306.8 L327.9 306.6 L327.8 306.4 L327.8 306.2 L327.7 306 L327.7 305.8 L327.6 305.6 L327.6 305.4 L327.6 305.2 L327.6 305.1 L327.6 304.9 L327.6 304.7 L327.6 304.6 L327.6 304.4 L327.6 304.3 L327.7 304.2 L327.7 304 L327.7 303.9 L327.8 303.8 L327.8 303.7 L327.9 303.6 L328 303.5 L328 303.4 L328.1 303.4 L328.2 303.3 L328.3 303.3 L336.4 299.4 L336.5 299.4 L336.6 299.4 L336.7 299.4 L336.8 299.4 L336.9 299.4 L337 299.4 L337.1 299.4 L337.2 299.5 L337.4 299.5 L337.5 299.6 L337.6 299.6 L337.7 299.7 L337.9 299.8 L338 299.9 L338.1 300 L338.2 300.1 L338.4 300.2 L338.5 300.4 L338.6 300.5 L338.7 300.6 L338.9 300.8 L339 301 L339.1 301.1 L339.2 301.3 L339.3 301.5 L339.4 301.6 L339.5 301.8 L339.6 302 L339.7 302.2 L339.8 302.4 L339.9 302.6 L340 302.8 L340.1 303 L340.1 303.2 L340.2 303.4 L340.3 303.6 L340.3 303.8 L340.4 304 L340.4 304.2 L340.5 304.4 L340.5 304.6 L340.5 304.7 L340.5 304.9 L340.6 305.1 L340.6 305.3 L340.6 305.4 L340.5 305.6 L340.5 305.7 L340.5 305.9 L340.5 306 L340.4 306.1 L340.4 306.2 L340.4 306.4 L340.3 306.5 L340.3 306.6 L340.2 306.6 L340.1 306.7 L340 306.8 L340 306.8 L339.9 306.9 Z" fill="#bbb" stroke="#111" stroke-width="1.2" stroke-linejoin="round"/>
<ellipse cx="330" cy="307" rx="1.8" ry="4.1" transform="rotate(-25.3 330 307)" fill="#fff" stroke="#111" stroke-width="1.2" />
<polyline points="330,303.6 336.4,300.6" fill="none" stroke="#222" stroke-width="0.9" stroke-linecap="round" stroke-linejoin="round" />
<polyline points="330.7,305.1 337.1,302.1" fill="none" stroke="#222" stroke-width="0.9" stroke-linecap="round" stroke-linejoin="round" />
<polyline points="331.4,306.5 337.8,303.6" fill="none" stroke="#222" stroke-width="0.9" stroke-linecap="round" stroke-linejoin="round" />
<polyline points="332.1,308 338.5,305" fill="none" stroke="#222" stroke-width="0.9" stroke-linecap="round" stroke-linejoin="round" />
<ellipse cx="330" cy="307" rx="1" ry="2" transform="rotate(-25.3 330 307)" fill="#555" stroke="#111" stroke-width="0.6" />
<polygon points="341.5,335.2 357.6,326.8 358.5,325.2 357.5,323.3 355.6,323.1 339.5,331.5" fill="#fff" stroke="#111" stroke-width="1.1" stroke-linejoin="round" />
<polyline points="345.3,332.9 344.5,329.1" fill="none" stroke="#222" stroke-width="0.75" stroke-linecap="round" stroke-linejoin="round" />
<polyline points="346.7,332.3 345.8,328.4" fill="none" stroke="#222" stroke-width="0.75" stroke-linecap="round" stroke-linejoin="round" />
<polyline points="348,331.6 347.2,327.7" fill="none" stroke="#222" stroke-width="0.75" stroke-linecap="round" stroke-linejoin="round" />
<polyline points="349.3,330.9 348.5,327.1" fill="none" stroke="#222" stroke-width="0.75" stroke-linecap="round" stroke-linejoin="round" />
<polyline points="350.7,330.2 349.8,326.4" fill="none" stroke="#222" stroke-width="0.75" stroke-linecap="round" stroke-linejoin="round" />
<polyline points="352,329.5 351.1,325.7" fill="none" stroke="#222" stroke-width="0.75" stroke-linecap="round" stroke-linejoin="round" />
<polyline points="353.3,328.8 352.5,325" fill="none" stroke="#222" stroke-width="0.75" stroke-linecap="round" stroke-linejoin="round" />
<polyline points="354.7,328.1 353.8,324.3" fill="none" stroke="#222" stroke-width="0.75" stroke-linecap="round" stroke-linejoin="round" />
<polyline points="356,327.4 355.1,323.6" fill="none" stroke="#222" stroke-width="0.75" stroke-linecap="round" stroke-linejoin="round" />
<path d="M334.4 341.1 L334.3 341.2 L334.2 341.2 L334.1 341.2 L334 341.2 L333.9 341.2 L333.8 341.2 L333.7 341.2 L333.5 341.2 L333.4 341.1 L333.3 341.1 L333.2 341 L333 340.9 L332.9 340.8 L332.8 340.8 L332.7 340.7 L332.5 340.5 L332.4 340.4 L332.3 340.3 L332.1 340.2 L332 340 L331.9 339.9 L331.8 339.7 L331.6 339.6 L331.5 339.4 L331.4 339.2 L331.3 339.1 L331.2 338.9 L331.1 338.7 L330.9 338.5 L330.8 338.3 L330.8 338.1 L330.7 337.9 L330.6 337.7 L330.5 337.5 L330.4 337.3 L330.3 337.2 L330.3 337 L330.2 336.8 L330.2 336.6 L330.1 336.4 L330.1 336.2 L330.1 336 L330 335.8 L330 335.7 L330 335.5 L330 335.3 L330 335.2 L330 335 L330 334.9 L330 334.8 L330.1 334.6 L330.1 334.5 L330.2 334.4 L330.2 334.3 L330.3 334.2 L330.3 334.1 L330.4 334 L330.5 334 L330.5 333.9 L330.6 333.9 L338.6 329.7 L338.7 329.7 L338.8 329.6 L338.9 329.6 L339 329.6 L339.1 329.6 L339.2 329.6 L339.3 329.7 L339.4 329.7 L339.6 329.7 L339.7 329.8 L339.8 329.8 L339.9 329.9 L340.1 330 L340.2 330.1 L340.3 330.2 L340.5 330.3 L340.6 330.4 L340.7 330.5 L340.8 330.7 L341 330.8 L341.1 331 L341.2 331.1 L341.4 331.3 L341.5 331.4 L341.6 331.6 L341.7 331.8 L341.8 332 L341.9 332.2 L342 332.3 L342.1 332.5 L342.2 332.7 L342.3 332.9 L342.4 333.1 L342.5 333.3 L342.6 333.5 L342.6 333.7 L342.7 333.9 L342.8 334.1 L342.8 334.3 L342.9 334.5 L342.9 334.6 L342.9 334.8 L343 335 L343 335.2 L343 335.3 L343 335.5 L343 335.7 L343 335.8 L343 336 L342.9 336.1 L342.9 336.2 L342.9 336.3 L342.8 336.5 L342.8 336.6 L342.7 336.7 L342.7 336.7 L342.6 336.8 L342.5 336.9 L342.4 336.9 L342.4 337 Z" fill="#bbb" stroke="#111" stroke-width="1.2" stroke-linejoin="round"/>
<ellipse cx="332.5" cy="337.5" rx="1.8" ry="4.1" transform="rotate(-27.5 332.5 337.5)" fill="#fff" stroke="#111" stroke-width="1.2" />
<polyline points="332.4,334.1 338.6,330.9" fill="none" stroke="#222" stroke-width="0.9" stroke-linecap="round" stroke-linejoin="round" />
<polyline points="333.2,335.5 339.4,332.3" fill="none" stroke="#222" stroke-width="0.9" stroke-linecap="round" stroke-linejoin="round" />
<polyline points="333.9,337 340.1,333.8" fill="none" stroke="#222" stroke-width="0.9" stroke-linecap="round" stroke-linejoin="round" />
<polyline points="334.7,338.4 340.9,335.2" fill="none" stroke="#222" stroke-width="0.9" stroke-linecap="round" stroke-linejoin="round" />
<ellipse cx="332.5" cy="337.5" rx="1" ry="2" transform="rotate(-27.5 332.5 337.5)" fill="#555" stroke="#111" stroke-width="0.6" />
<polygon points="326,328.2 338.5,322.3 339.5,320.8 338.7,319.1 336.9,318.9 324.4,324.7" fill="#fff" stroke="#111" stroke-width="1.1" stroke-linejoin="round" />
<polyline points="330.3,326 329.7,322.4" fill="none" stroke="#222" stroke-width="0.75" stroke-linecap="round" stroke-linejoin="round" />
<polyline points="331.6,325.3 331.1,321.8" fill="none" stroke="#222" stroke-width="0.75" stroke-linecap="round" stroke-linejoin="round" />
<polyline points="333,324.7 332.5,321.2" fill="none" stroke="#222" stroke-width="0.75" stroke-linecap="round" stroke-linejoin="round" />
<polyline points="334.4,324.1 333.8,320.5" fill="none" stroke="#222" stroke-width="0.75" stroke-linecap="round" stroke-linejoin="round" />
<polyline points="335.7,323.4 335.2,319.9" fill="none" stroke="#222" stroke-width="0.75" stroke-linecap="round" stroke-linejoin="round" />
<polyline points="337.1,322.8 336.5,319.3" fill="none" stroke="#222" stroke-width="0.75" stroke-linecap="round" stroke-linejoin="round" />
<path d="M324.8 333.3 L324.6 333.3 L324.4 333.4 L324.2 333.5 L324 333.5 L323.7 333.5 L323.5 333.5 L323.3 333.5 L323 333.5 L322.8 333.4 L322.6 333.4 L322.3 333.3 L322.1 333.2 L321.8 333.1 L321.6 333 L321.4 332.9 L321.1 332.7 L320.9 332.6 L320.7 332.4 L320.5 332.2 L320.2 332 L320 331.8 L319.8 331.6 L319.6 331.4 L319.4 331.1 L319.2 330.9 L319.1 330.6 L318.9 330.4 L318.8 330.1 L318.6 329.8 L318.5 329.5 L318.3 329.2 L318.2 328.9 L318.1 328.7 L318 328.4 L318 328.1 L317.9 327.8 L317.8 327.5 L317.8 327.2 L317.8 326.9 L317.7 326.6 L317.7 326.3 L317.7 326 L317.7 325.7 L317.8 325.4 L317.8 325.2 L317.9 324.9 L317.9 324.6 L318 324.4 L318.1 324.2 L318.2 323.9 L318.3 323.7 L318.5 323.5 L318.6 323.3 L318.7 323.1 L318.9 323 L319.1 322.8 L319.2 322.7 L319.4 322.6 L319.6 322.4 L319.8 322.3 L322.7 321 L322.9 320.9 L323.1 320.8 L323.3 320.8 L323.5 320.8 L323.8 320.7 L324 320.7 L324.2 320.7 L324.5 320.8 L324.7 320.8 L324.9 320.9 L325.2 320.9 L325.4 321 L325.7 321.1 L325.9 321.2 L326.1 321.4 L326.4 321.5 L326.6 321.7 L326.8 321.8 L327 322 L327.3 322.2 L327.5 322.4 L327.7 322.7 L327.9 322.9 L328.1 323.1 L328.3 323.4 L328.4 323.6 L328.6 323.9 L328.7 324.2 L328.9 324.4 L329 324.7 L329.2 325 L329.3 325.3 L329.4 325.6 L329.5 325.9 L329.5 326.2 L329.6 326.5 L329.7 326.8 L329.7 327.1 L329.7 327.4 L329.8 327.7 L329.8 328 L329.8 328.3 L329.8 328.5 L329.7 328.8 L329.7 329.1 L329.6 329.3 L329.6 329.6 L329.5 329.8 L329.4 330.1 L329.3 330.3 L329.2 330.5 L329 330.7 L328.9 330.9 L328.8 331.1 L328.6 331.3 L328.4 331.4 L328.3 331.6 L328.1 331.7 L327.9 331.8 L327.7 331.9 Z" fill="#fff" stroke="#111" stroke-width="1.2" stroke-linejoin="round"/>
<ellipse cx="322.3" cy="327.8" rx="4.2" ry="6" transform="rotate(-25 322.3 327.8)" fill="#fff" stroke="#111" stroke-width="1.2" />
<ellipse cx="322.3" cy="327.8" rx="2.3" ry="3" transform="rotate(-25 322.3 327.8)" fill="#bbb" stroke="#111" stroke-width="0.6" />
<polygon points="211,90 228.7,81.3 232.7,88.3 235.3,92.3 238.3,92.7 242.7,99 228.7,105.7 222.7,110 211.3,92.5" fill="#fff" stroke="#111" stroke-width="1.3" stroke-linejoin="round" />
<polygon points="211.7,90.5 216,88.7 222,99.3 218.3,101.3" fill="#151515" stroke="none" stroke-width="0" stroke-linejoin="round" />
<polyline points="213.3,90.7 219.3,100.7" fill="none" stroke="#999" stroke-width="0.8" stroke-linecap="round" stroke-linejoin="round" />
<polygon points="217,89 219.3,88 225,98.3 223,99.3" fill="#151515" stroke="none" stroke-width="0" stroke-linejoin="round" />
<polyline points="220.7,87.7 226.7,98" fill="none" stroke="#111" stroke-width="1.0" stroke-linecap="round" stroke-linejoin="round" />
<polyline points="222.3,86.9 228.3,97.3" fill="none" stroke="#111" stroke-width="1.0" stroke-linecap="round" stroke-linejoin="round" />
<polyline points="225.7,84.3 231.3,94.7" fill="none" stroke="#111" stroke-width="1.1" stroke-linecap="round" stroke-linejoin="round" />
<polygon points="226.7,98.3 238.3,92.7 242.7,99 229.7,105.7" fill="#fff" stroke="#111" stroke-width="1.3" stroke-linejoin="round" />
<polyline points="232.3,96 235.7,102.3" fill="none" stroke="#666" stroke-width="0.8" stroke-linecap="round" stroke-linejoin="round" />
<polyline points="234.3,95 237.3,101.3" fill="none" stroke="#666" stroke-width="0.8" stroke-linecap="round" stroke-linejoin="round" />
<polygon points="219.3,102.3 227,98.7 229.7,105.7 222.7,110" fill="#fff" stroke="#111" stroke-width="1.2" stroke-linejoin="round" />
<polyline points="221,104.3 228,101.7" fill="none" stroke="#111" stroke-width="1.0" stroke-linecap="round" stroke-linejoin="round" />
<polyline points="226.3,99.7 228.7,106.3" fill="none" stroke="#111" stroke-width="1.0" stroke-linecap="round" stroke-linejoin="round" />
<polygon points="245.7,114.3 252.7,107 257,108 266.7,117.7 267.7,122 262,128.7 259.3,128 245.7,116" fill="#fff" stroke="#111" stroke-width="1.3" stroke-linejoin="round" />
<polyline points="246.7,115 253,108.7 256.7,109.2 266.1,118.7" fill="none" stroke="#111" stroke-width="0.9" stroke-linecap="round" stroke-linejoin="round" />
<polyline points="251.7,111.3 263.7,120" fill="none" stroke="#111" stroke-width="2.4" stroke-linecap="round" stroke-linejoin="round" />
<polyline points="249,113.7 261,123" fill="none" stroke="#111" stroke-width="1.0" stroke-linecap="round" stroke-linejoin="round" />
<polygon points="262,126.7 267.3,122 274,128.7 268.7,132.7" fill="#fff" stroke="#111" stroke-width="1.2" stroke-linejoin="round" />
<polygon points="265.7,129.7 270.3,125 272,126.7 267.3,131.3" fill="#111" stroke="none" stroke-width="0" stroke-linejoin="round" />
<polygon points="266.7,129.7 270.7,126 271.3,126.7 267.3,130.5" fill="#fff" stroke="none" stroke-width="0" stroke-linejoin="round" />
<polygon points="709.8,395.6 726.9,404.6 728.8,400.8 732.1,411.7 719.3,415 721.2,412.2 705.5,403.2" fill="#000" stroke="#000" stroke-width="0.5" stroke-linejoin="round" />
<text x="0" y="0" transform="translate(682.5,392.3) rotate(29)" font-family="Liberation Sans" font-weight="bold" font-size="14.5" fill="#000" stroke="#000" stroke-width="0.7">FR.</text>
<line x1="38" y1="428.6" x2="795" y2="429.6" stroke="#111" stroke-width="1.4"/>
<line x1="40" y1="470.6" x2="797" y2="471.6" stroke="#111" stroke-width="1.4"/>
</svg>

<div class="t hd" style="left:97px;top:443px;">Ref. No</div>
<div class="t hd" style="left:205px;top:443px;">Part Number</div>
<div class="t hd" style="left:358px;top:443px;">Description</div>
<div class="t hd" style="left:721px;top:443px;">Qty</div>

<div class="t r" style="left:121px;top:476px;"><span class="one"><svg viewBox="0 -0.716 0.556 0.716"><polygon points="0.358,0 0.358,-0.716 0.29,-0.716 0.25,-0.665 0.18,-0.6 0.05,-0.525 0.05,-0.44 0.15,-0.49 0.22,-0.54 0.269,-0.575 0.269,0" fill="#000"/></svg></span></div>
<div class="t r" style="left:201px;top:476px;">3<span class="one"><svg viewBox="0 -0.716 0.556 0.716"><polygon points="0.358,0 0.358,-0.716 0.29,-0.716 0.25,-0.665 0.18,-0.6 0.05,-0.525 0.05,-0.44 0.15,-0.49 0.22,-0.54 0.269,-0.575 0.269,0" fill="#000"/></svg></span>2<span class="one"><svg viewBox="0 -0.716 0.556 0.716"><polygon points="0.358,0 0.358,-0.716 0.29,-0.716 0.25,-0.665 0.18,-0.6 0.05,-0.525 0.05,-0.44 0.15,-0.49 0.22,-0.54 0.269,-0.575 0.269,0" fill="#000"/></svg></span>0-K2T-V0<span class="one"><svg viewBox="0 -0.716 0.556 0.716"><polygon points="0.358,0 0.358,-0.716 0.29,-0.716 0.25,-0.665 0.18,-0.6 0.05,-0.525 0.05,-0.44 0.15,-0.49 0.22,-0.54 0.269,-0.575 0.269,0" fill="#000"/></svg></span></div>
<div class="t r" style="left:357px;top:476px;">FLYWHEEL COMP. (MITSUBA)</div>
<div class="t r" style="left:732px;top:476px;"><span class="one"><svg viewBox="0 -0.716 0.556 0.716"><polygon points="0.358,0 0.358,-0.716 0.29,-0.716 0.25,-0.665 0.18,-0.6 0.05,-0.525 0.05,-0.44 0.15,-0.49 0.22,-0.54 0.269,-0.575 0.269,0" fill="#000"/></svg></span></div>

<div class="t r" style="left:121px;top:493.3px;">2</div>
<div class="t r" style="left:201px;top:493.3px;">3<span class="one"><svg viewBox="0 -0.716 0.556 0.716"><polygon points="0.358,0 0.358,-0.716 0.29,-0.716 0.25,-0.665 0.18,-0.6 0.05,-0.525 0.05,-0.44 0.15,-0.49 0.22,-0.54 0.269,-0.575 0.269,0" fill="#000"/></svg></span>220-K3M-T0<span class="one"><svg viewBox="0 -0.716 0.556 0.716"><polygon points="0.358,0 0.358,-0.716 0.29,-0.716 0.25,-0.665 0.18,-0.6 0.05,-0.525 0.05,-0.44 0.15,-0.49 0.22,-0.54 0.269,-0.575 0.269,0" fill="#000"/></svg></span></div>
<div class="t r" style="left:357px;top:493.3px;">STATOR COMP.</div>
<div class="t r" style="left:732px;top:493.3px;"><span class="one"><svg viewBox="0 -0.716 0.556 0.716"><polygon points="0.358,0 0.358,-0.716 0.29,-0.716 0.25,-0.665 0.18,-0.6 0.05,-0.525 0.05,-0.44 0.15,-0.49 0.22,-0.54 0.269,-0.575 0.269,0" fill="#000"/></svg></span></div>

<div class="t r" style="left:121px;top:510.5px;">3</div>
<div class="t r" style="left:201px;top:510.5px;">9000<span class="one"><svg viewBox="0 -0.716 0.556 0.716"><polygon points="0.358,0 0.358,-0.716 0.29,-0.716 0.25,-0.665 0.18,-0.6 0.05,-0.525 0.05,-0.44 0.15,-0.49 0.22,-0.54 0.269,-0.575 0.269,0" fill="#000"/></svg></span>-KWR-000</div>
<div class="t r" style="left:357px;top:510.5px;">BOLT, SOCKET, 6X<span class="one"><svg viewBox="0 -0.716 0.556 0.716"><polygon points="0.358,0 0.358,-0.716 0.29,-0.716 0.25,-0.665 0.18,-0.6 0.05,-0.525 0.05,-0.44 0.15,-0.49 0.22,-0.54 0.269,-0.575 0.269,0" fill="#000"/></svg></span>8</div>
<div class="t r" style="left:732px;top:510.5px;"><span class="one"><svg viewBox="0 -0.716 0.556 0.716"><polygon points="0.358,0 0.358,-0.716 0.29,-0.716 0.25,-0.665 0.18,-0.6 0.05,-0.525 0.05,-0.44 0.15,-0.49 0.22,-0.54 0.269,-0.575 0.269,0" fill="#000"/></svg></span></div>

<div class="t r" style="left:121px;top:527.8px;">4</div>
<div class="t r" style="left:201px;top:527.8px;">90439-KWZ-900</div>
<div class="t r" style="left:357px;top:527.8px;">WASHER, <span class="one"><svg viewBox="0 -0.716 0.556 0.716"><polygon points="0.358,0 0.358,-0.716 0.29,-0.716 0.25,-0.665 0.18,-0.6 0.05,-0.525 0.05,-0.44 0.15,-0.49 0.22,-0.54 0.269,-0.575 0.269,0" fill="#000"/></svg></span>2X24X2.3</div>
<div class="t r" style="left:732px;top:527.8px;"><span class="one"><svg viewBox="0 -0.716 0.556 0.716"><polygon points="0.358,0 0.358,-0.716 0.29,-0.716 0.25,-0.665 0.18,-0.6 0.05,-0.525 0.05,-0.44 0.15,-0.49 0.22,-0.54 0.269,-0.575 0.269,0" fill="#000"/></svg></span></div>

<div class="t r" style="left:121px;top:545px;">5</div>
<div class="t r" style="left:201px;top:545px;">94050-<span class="one"><svg viewBox="0 -0.716 0.556 0.716"><polygon points="0.358,0 0.358,-0.716 0.29,-0.716 0.25,-0.665 0.18,-0.6 0.05,-0.525 0.05,-0.44 0.15,-0.49 0.22,-0.54 0.269,-0.575 0.269,0" fill="#000"/></svg></span>2000</div>
<div class="t r" style="left:357px;top:545px;">NUT, FLANGE, <span class="one"><svg viewBox="0 -0.716 0.556 0.716"><polygon points="0.358,0 0.358,-0.716 0.29,-0.716 0.25,-0.665 0.18,-0.6 0.05,-0.525 0.05,-0.44 0.15,-0.49 0.22,-0.54 0.269,-0.575 0.269,0" fill="#000"/></svg></span>2MM</div>
<div class="t r" style="left:732px;top:545px;"><span class="one"><svg viewBox="0 -0.716 0.556 0.716"><polygon points="0.358,0 0.358,-0.716 0.29,-0.716 0.25,-0.665 0.18,-0.6 0.05,-0.525 0.05,-0.44 0.15,-0.49 0.22,-0.54 0.269,-0.575 0.269,0" fill="#000"/></svg></span></div>

<div class="t r" style="left:121px;top:562.3px;">6</div>
<div class="t r" style="left:201px;top:562.3px;">96700-06020-00</div>
<div class="t r" style="left:357px;top:562.3px;">BOLT, SOCKET, 6X20</div>
<div class="t r" style="left:732px;top:562.3px;">3</div>
</body></html>
